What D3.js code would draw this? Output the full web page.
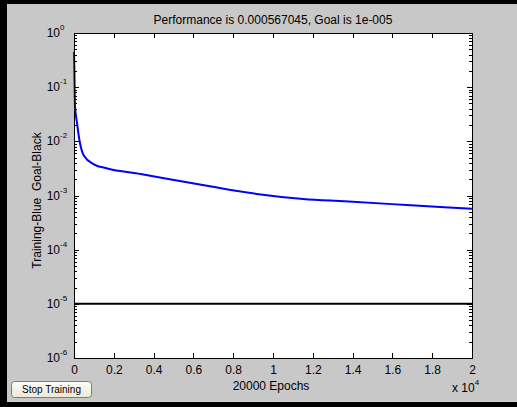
<!DOCTYPE html>
<html>
<head>
<meta charset="utf-8">
<script src="https://cdn.jsdelivr.net/npm/d3@7"></script>
<style>
  html, body { margin: 0; padding: 0; background: #000; }
  svg { display: block; font-family: "Liberation Sans", Arial, sans-serif; }
</style>
</head>
<body>
<div id="chart"></div>
<script>
// training record
const epochs = [0, 20, 50, 150, 300, 500, 1000, 1675, 3350, 5025, 6900, 9180, 11520, 13600, 16720, 20000];
const perf = [0.45, 0.2, 0.045, 0.022, 0.0093, 0.0054, 0.00377, 0.00316, 0.0025, 0.00193, 0.00146, 0.00107, 0.000863, 0.00078, 0.000668, 0.000567];
const goalEpochs = [0, 20000];
const goalValue = 1e-5;
const xTicks = [0, 2000, 4000, 6000, 8000, 10000, 12000, 14000, 16000, 18000, 20000];
const yDecades = [0, -1, -2, -3, -4, -5, -6];

const W = 517, H = 407;
const plot = { left: 74, right: 472, top: 33, bottom: 358 };

const svg = d3.select("#chart").append("svg")
    .attr("width", W)
    .attr("height", H);

// window frame: black edge, gray figure
svg.append("rect").attr("width", W).attr("height", H).attr("fill", "#000");
svg.append("rect")
    .attr("x", 7).attr("y", 4)
    .attr("width", W - 7).attr("height", 397)
    .attr("fill", "#c8c8c8");
svg.append("line")
    .attr("x1", 7).attr("x2", W).attr("y1", 401.5).attr("y2", 401.5)
    .attr("stroke", "#d6d6b8");

const x = d3.scaleLinear().domain([0, 20000]).range([plot.left, plot.right]);
const y = d3.scaleLog().domain([1e-6, 1]).range([plot.bottom, plot.top]);

// axes background
svg.append("rect")
    .attr("x", plot.left).attr("y", plot.top)
    .attr("width", plot.right - plot.left).attr("height", plot.bottom - plot.top)
    .attr("fill", "#fff");

const g = svg.append("g").attr("shape-rendering", "crispEdges");

// minor + major y ticks (inward, both sides)
const allY = y.ticks();
const isMajor = v => Math.abs(Math.log10(v) - Math.round(Math.log10(v))) < 1e-9;
allY.forEach(v => {
    const len = isMajor(v) ? 5 : 3;
    const yy = Math.round(y(v)) + 0.5;
    g.append("line").attr("x1", plot.left).attr("x2", plot.left + len)
        .attr("y1", yy).attr("y2", yy).attr("stroke", "#000");
    g.append("line").attr("x1", plot.right - len).attr("x2", plot.right)
        .attr("y1", yy).attr("y2", yy).attr("stroke", "#000");
});

// x ticks top and bottom
const xAxis = d3.axisBottom(x)
    .tickValues(xTicks)
    .tickSize(-5)
    .tickPadding(7)
    .tickFormat(d => d3.format("")(d / 1e4));
const xa = svg.append("g")
    .attr("transform", `translate(0,${plot.bottom})`)
    .call(xAxis);
xa.select(".domain").remove();
xa.selectAll("line").attr("stroke", "#000").attr("shape-rendering", "crispEdges");
xa.selectAll("text").attr("font-size", 12).attr("fill", "#000").attr("font-family", null);

const xTop = svg.append("g")
    .attr("transform", `translate(0,${plot.top})`)
    .call(d3.axisTop(x).tickValues(xTicks).tickSize(-5).tickFormat(""));
xTop.select(".domain").remove();
xTop.selectAll("line").attr("stroke", "#000").attr("shape-rendering", "crispEdges");

// y tick labels 10^n
yDecades.forEach(p => {
    svg.append("text")
        .attr("x", 60)
        .attr("y", y(Math.pow(10, p)) + 4)
        .attr("text-anchor", "end")
        .attr("font-size", 12)
        .attr("fill", "#000")
        .text("10");
    svg.append("text")
        .attr("x", 60)
        .attr("y", y(Math.pow(10, p)) - 3)
        .attr("font-size", 8)
        .attr("fill", "#000")
        .text(p);
});

// goal line
const line = d3.line().x(d => x(d[0])).y(d => y(d[1]));
svg.append("path")
    .datum(goalEpochs.map(e => [e, goalValue]))
    .attr("d", line)
    .attr("fill", "none")
    .attr("stroke", "#000")
    .attr("stroke-width", 2);

// training curve
svg.append("path")
    .datum(epochs.map((e, i) => [e, perf[i]]))
    .attr("d", line.curve(d3.curveMonotoneX))
    .attr("fill", "none")
    .attr("stroke", "#0000ff")
    .attr("stroke-width", 2);

// box
svg.append("rect")
    .attr("x", plot.left + 0.5).attr("y", plot.top + 0.5)
    .attr("width", plot.right - plot.left).attr("height", plot.bottom - plot.top)
    .attr("fill", "none")
    .attr("stroke", "#000")
    .attr("shape-rendering", "crispEdges");

// title and labels
svg.append("text")
    .attr("x", (plot.left + plot.right) / 2)
    .attr("y", 24)
    .attr("text-anchor", "middle")
    .attr("font-size", 12)
    .text("Performance is 0.000567045, Goal is 1e-005");

svg.append("text")
    .attr("transform", `translate(41,${(plot.top + plot.bottom) / 2 + 5}) rotate(-90)`)
    .attr("text-anchor", "middle")
    .attr("font-size", 12)
    .attr("xml:space", "preserve")
    .text("Training-Blue  Goal-Black");

svg.append("text")
    .attr("x", 271)
    .attr("y", 390)
    .attr("text-anchor", "middle")
    .attr("font-size", 12)
    .text("20000 Epochs");

const mult = svg.append("text")
    .attr("x", 452)
    .attr("y", 392)
    .attr("font-size", 12);
mult.append("tspan").text("x 10");
mult.append("tspan").attr("dy", -7).attr("font-size", 8).text("4");

// Stop Training button
const defs = svg.append("defs");
const grad = defs.append("linearGradient").attr("id", "btn").attr("x1", 0).attr("x2", 0).attr("y1", 0).attr("y2", 1);
grad.append("stop").attr("offset", 0).attr("stop-color", "#fdfcf6");
grad.append("stop").attr("offset", 1).attr("stop-color", "#ebe8d6");
svg.append("rect")
    .attr("x", 11.5).attr("y", 381.5)
    .attr("width", 80).attr("height", 16)
    .attr("rx", 3)
    .attr("fill", "url(#btn)")
    .attr("stroke", "#6f8f3c");
svg.append("text")
    .attr("x", 51.5)
    .attr("y", 393)
    .attr("text-anchor", "middle")
    .attr("font-size", 10)
    .text("Stop Training");
</script>
</body>
</html>
